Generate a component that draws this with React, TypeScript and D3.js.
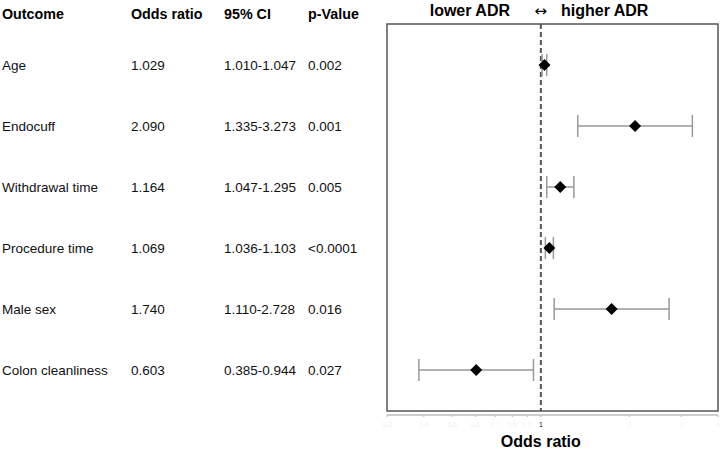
import React from "react";
import * as d3 from "d3";

const outcomes = ["Age", "Endocuff", "Withdrawal time", "Procedure time", "Male sex", "Colon cleanliness"];
const oddsRatios = [1.029, 2.09, 1.164, 1.069, 1.74, 0.603];
const ciLow = [1.01, 1.335, 1.047, 1.036, 1.11, 0.385];
const ciHigh = [1.047, 3.273, 1.295, 1.103, 2.728, 0.944];
const orLabels = ["1.029", "2.090", "1.164", "1.069", "1.740", "0.603"];
const ciLabels = ["1.010-1.047", "1.335-3.273", "1.047-1.295", "1.036-1.103", "1.110-2.728", "0.385-0.944"];
const pLabels = ["0.002", "0.001", "0.005", "<0.0001", "0.016", "0.027"];
const headers = ["Outcome", "Odds ratio", "95% CI", "p-Value"];
const axisTicks = [0.3, 0.4, 0.5, 0.6, 0.7, 0.8, 0.9, 1, 2, 3, 4];

export default function App() {
  const W = 722, H = 451;
  const font = "Liberation Sans, Arial, sans-serif";
  const x = d3.scaleLog().domain([0.3, 4]).range([387, 718]);
  const y = d3.scalePoint<string>().domain(outcomes).range([65, 370]);
  const colX = [2, 131, 224, 308];
  const boxTop = 24, boxBottom = 411;
  const axisY = 415;
  return (
    <svg width={W} height={H} style={{ position: "absolute", left: 0, top: 0, background: "#fff" }} fontFamily={font}>
      <rect x={0} y={0} width={W} height={H} fill="#fff" />
      {headers.map((h, i) => (
        <text key={h} x={colX[i]} y={19} fontSize={14.3} fontWeight="bold" fill="#000">{h}</text>
      ))}
      {outcomes.map((o, i) => {
        const yy = y(o)! + 5;
        return (
          <g key={o} fontSize={13.5} fill="#111">
            <text x={colX[0]} y={yy}>{o}</text>
            <text x={colX[1]} y={yy}>{orLabels[i]}</text>
            <text x={colX[2]} y={yy}>{ciLabels[i]}</text>
            <text x={colX[3]} y={yy}>{pLabels[i]}</text>
          </g>
        );
      })}
      <text x={510} y={16} textAnchor="end" fontSize={16} fontWeight="bold" fill="#000">lower ADR</text>
      <text x={x(1)} y={16} textAnchor="middle" fontSize={15} fontFamily="DejaVu Sans, sans-serif" fill="#000">↔</text>
      <text x={561} y={16} textAnchor="start" fontSize={16} fontWeight="bold" fill="#000">higher ADR</text>
      <rect x={387} y={boxTop} width={718 - 387} height={boxBottom - boxTop} fill="none" stroke="#555" strokeWidth={1.5} />
      <line x1={x(1)} x2={x(1)} y1={boxTop} y2={boxBottom} stroke="#555" strokeWidth={2} strokeDasharray="5,3" />
      {outcomes.map((o, i) => {
        const cy = y(o)!;
        const cx = x(oddsRatios[i]);
        const s = 6;
        return (
          <g key={"m" + o}>
            <line x1={x(ciLow[i])} x2={x(ciHigh[i])} y1={cy} y2={cy} stroke="#999" strokeWidth={1.5} />
            <line x1={x(ciLow[i])} x2={x(ciLow[i])} y1={cy - 11} y2={cy + 11} stroke="#999" strokeWidth={1.5} />
            <line x1={x(ciHigh[i])} x2={x(ciHigh[i])} y1={cy - 11} y2={cy + 11} stroke="#999" strokeWidth={1.5} />
            <path d={`M${cx},${cy - s}L${cx + s},${cy}L${cx},${cy + s}L${cx - s},${cy}Z`} fill="#000" />
          </g>
        );
      })}
      <line x1={387} x2={718} y1={axisY} y2={axisY} stroke="#999" strokeWidth={1} />
      {axisTicks.map((t) => (
        <g key={t}>
          <line x1={x(t)} x2={x(t)} y1={axisY} y2={axisY + 2} stroke="#bbb" strokeWidth={1} />
          <text x={x(t)} y={axisY + 12} textAnchor="middle" fontSize={7} fill={t === 1 ? "#222" : "#f2f2f2"}>{t}</text>
        </g>
      ))}
      <text x={x(1)} y={447} textAnchor="middle" fontSize={16} fontWeight="bold" fill="#000">Odds ratio</text>
    </svg>
  );
}
